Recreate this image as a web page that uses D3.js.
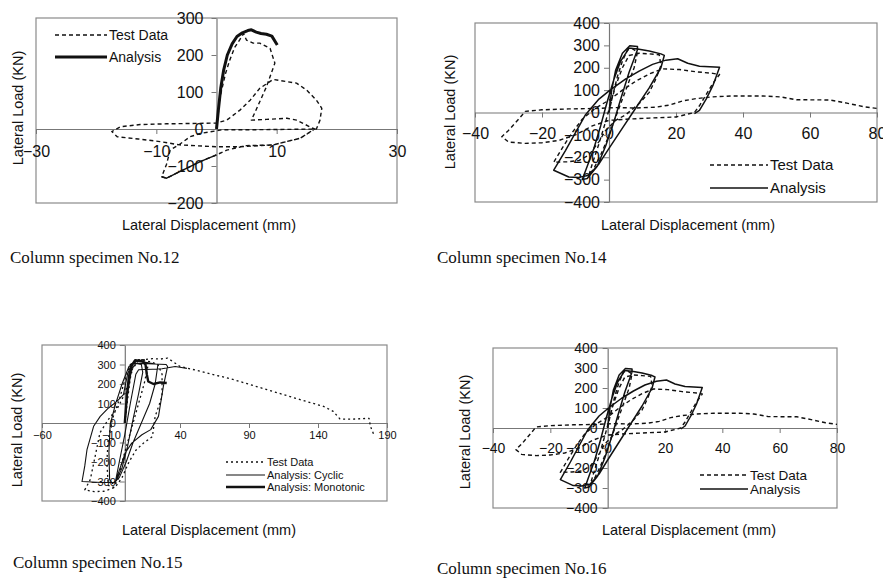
<!DOCTYPE html>
<html>
<head>
<meta charset="utf-8">
<script src="https://cdn.jsdelivr.net/npm/d3@7"></script>
<style>
  body { margin: 0; background: #fff; }
  text { font-family: "Liberation Sans", Arial, sans-serif; fill: #111; }
  .caption { font-family: "Liberation Serif", "Times New Roman", serif; }
</style>
</head>
<body>
<script>
// Lateral load (KN) vs lateral displacement (mm)

// Column specimen No.12
var test12 = [[0,0],[0.6,87],[1.5,150],[2.2,186],[3,220],[3.9,242],[4.5,258],[5,240],[6.1,232],[7.2,232],
  [8.9,218],[9.7,178],[8.3,114],[6.7,56],[5.8,24],[8.3,26],[11.7,29],[13.3,24],[15.5,6],[16.3,0],
  [13.9,-25],[9.4,-43],[3.9,-48],[0,-48],[-6.1,-43],[-9.4,-34],[-13,-27],[-16.5,-21],[-17.4,-7],[-16,6],
  [-12.7,12],[-8.3,14],[-4,15],[0,16],[1.7,24],[3.9,51],[5.6,78],[7.2,110],[9.4,134],[11.7,128],
  [13.3,124],[15,105],[16.6,78],[17.5,56],[17.2,24],[16.6,0],[12,-1],[6,-2],[1,-2],[-2.7,-12],
  [-4.4,-21],[-6,-40],[-7.7,-57],[-8.3,-95],[-9.1,-129],[-8.3,-133],[-6.1,-115],[-2.7,-88],[0,-70],
  [1.7,-57],[5,-45],[9.4,-43],[13.9,-25],[16.1,-3]];
var analysis12 = [[0,0],[0.3,50],[0.7,110],[1.2,160],[1.8,200],[2.6,230],[3.4,250],[4.3,260],[5.2,266],
  [5.8,268],[6.6,262],[7.4,258],[8.3,256],[9.2,251],[10.1,227]];
var analysis12Neg = [[0,-70],[-2.7,-88],[-6.1,-115],[-8.3,-133],[-9.1,-129]];

// Column specimen No.14 (No.16 is drawn with the same curves in the figure)
var test14 = [[0,0],[1,70],[2.5,160],[4,230],[5.5,280],[7,285],[8.5,270],[7.5,200],[5.5,120],[3.5,40],
  [1.5,-40],[-0.5,-120],[-2.5,-190],[-4.5,-250],[-6,-280],[-5,-230],[-3,-140],[-1,-40],[0.5,40],[2,120],
  [4,200],[6,255],[9,265],[12,262],[15,258],[15.5,210],[14,150],[12,90],[9,40],[5,-10],[2,-35],[-1,-80],
  [-3,-130],[-6,-190],[-9,-215],[-12.5,-220],[-16.5,-222],[-14,-160],[-11,-90],[-8,-30],[-4,20],[0,55],
  [4,100],[8,140],[12,172],[16,195],[21,192],[26,182],[31,175],[33,170],[31,130],[29,80],[27,30],
  [25.5,0],[20,-20],[12,-25],[5,-30],[0,-35],[-5,-60],[-10,-100],[-15,-125],[-20,-135],[-25,-138],
  [-30,-132],[-32,-108],[-30,-80],[-27,-30],[-25,5],[-20,12],[-12,16],[-4,18],[2,22],[8,20],[14,24],
  [18,33],[22,52],[26,62],[31,70],[37,74],[46,74],[51,70],[56,57],[66,56],[71,42],[76,26],[80,18]];
var analysis14 = [[0,0],[0.8,100],[2,190],[4,265],[6.2,298],[8.5,295],[8.5,280],[6,180],[3.5,60],
  [1.5,-40],[-1,-150],[-3.5,-240],[-6.5,-295],[-8,-300],[-7,-260],[-4.5,-160],[-2.5,-60],[-0.5,50],
  [1.5,150],[3.5,230],[6,288],[9,283],[12,275],[15.5,262],[16.5,255],[15.5,200],[12,110],[8,20],
  [4,-70],[0,-160],[-3,-230],[-6,-280],[-9,-290],[-12,-288],[-16.5,-258],[-13,-170],[-10,-90],[-7,-10],
  [-3,60],[0.3,100],[5,150],[9,185],[13,215],[17,234],[20.5,240],[23.5,220],[27,207],[30,205],
  [33,202],[31,120],[29,60],[27,10],[25.5,-5]];
var test16 = test14;
var analysis16 = analysis14;

// Column specimen No.15
var test15 = [[0,0],[2,120],[4,230],[6,290],[9,320],[14,325],[17,300],[14,200],[10,100],[6,0],[2,-100],
  [-2,-200],[-5,-290],[-8,-330],[-12,-320],[-13,-200],[-12,-80],[-9,20],[-4,120],[0,220],[4,300],
  [10,325],[18,315],[24,300],[27,250],[27,136],[22,34],[20,-70],[14,-100],[8,-140],[3,-200],[-2,-280],
  [-7,-330],[-15,-350],[-22,-352],[-29,-343],[-25,-290],[-21,-154],[-18,-50],[-12,17],[-5,80],[0,150],
  [5,270],[10,322],[20,330],[26,328],[31,333],[40,290],[55,265],[79,222],[103,171],[127,120],[144,85],
  [151,60],[156,20],[165,20],[177,24],[178,-17],[181,-69]];
var cyclic15 = [[0,0],[2,150],[5,280],[8,305],[12,300],[13,260],[10,150],[6,20],[2,-120],[-2,-230],
  [-6,-295],[-9,-310],[-11,-290],[-11.5,-150],[-10.6,-9],[-7,90],[-2,200],[3,290],[8,315],[14,312],
  [20,305],[24,300],[22,200],[18,100],[12,0],[6,-100],[1,-200],[-4,-280],[-8,-305],[-16.6,-305],
  [-31,-300],[-29,-220],[-27.4,-137],[-22.6,-17],[-17.8,34],[-11.8,77],[-5.7,111],[-1,145],[2,250],
  [5,305],[12,305],[30,300],[31,290],[28,190],[24.4,34],[18.8,-34],[12.4,-60],[5,-103],[0.3,-154],
  [-4.6,-256],[-7,-308],[-4,-200],[0,-60],[4,100],[8,250],[10,273],[20,276],[27,278],[36.5,290],
  [41,285],[45,280]];
var mono15 = [[0,0],[1.5,140],[3,240],[5,295],[7.5,322],[10,320],[13,316],[15,300],[16,248],[17,213],
  [20.8,200],[25.6,208],[30.4,205]];

// tick values
var xTicks12 = [-30, -10, 10, 30];
var yTicks12 = [-200, -100, 0, 100, 200, 300];
var xTicks14 = [-40, -20, 0, 20, 40, 60, 80];
var yTicks14 = [-400, -300, -200, -100, 0, 100, 200, 300, 400];
var xTicks15 = [-60, -10, 40, 90, 140, 190];

// labels
var legend2 = ["Test Data", "Analysis"];
var legend3 = ["Test Data", "Analysis: Cyclic", "Analysis: Monotonic"];
var xTitle = "Lateral Displacement (mm)";
var yTitle = "Lateral Load (KN)";

var svg = d3.select("body").append("svg")
  .attr("width", 883)
  .attr("height", 579);

var panels = [
  { id: 1, left: 36, right: 397, top: 18, bottom: 203, xDomain: [-30, 30], yDomain: [-200, 300],
    xTicks: xTicks12, yTicks: yTicks12, tickFont: 16, xPad: 12, yPad: 8,
    xTitle: [209, 230], yTitle: [23, 108], caption: "Column specimen No.12", capPos: [10, 263],
    series: [
      { data: test12, width: 1.4, dash: "4,3" },
      { data: analysis12Neg, width: 1.4, dash: null },
      { data: analysis12, width: 3, dash: null }
    ],
    legend: { x1: 55, x2: 107, ys: [35, 57], labels: legend2, font: 14, widths: [1.4, 3], dashes: ["4,3", null] } },
  { id: 2, left: 475, right: 877, top: 23, bottom: 202, xDomain: [-40, 80], yDomain: [-400, 400],
    xTicks: xTicks14, yTicks: yTicks14, tickFont: 16, xPad: 10, yPad: 4,
    xTitle: [688, 230], yTitle: [455, 112], caption: "Column specimen No.14", capPos: [437, 263],
    series: [
      { data: test14, width: 1.4, dash: "4,3" },
      { data: analysis14, width: 1.5, dash: null }
    ],
    legend: { x1: 710, x2: 768, ys: [165, 188], labels: legend2, font: 15, widths: [1.4, 1.5], dashes: ["4,3", null] } },
  { id: 3, left: 42, right: 387, top: 345, bottom: 501, xDomain: [-60, 190], yDomain: [-400, 400],
    xTicks: xTicks15, yTicks: yTicks14, tickFont: 11, xPad: 3, yPad: 4,
    xTitle: [209, 535], yTitle: [22, 430], caption: "Column specimen No.15", capPos: [13, 568],
    series: [
      { data: test15, width: 1.3, dash: "2,3" },
      { data: cyclic15, width: 1.1, dash: null },
      { data: mono15, width: 2.4, dash: null }
    ],
    legend: { x1: 226, x2: 265, ys: [462, 475, 487], labels: legend3, font: 11, widths: [1.3, 1.1, 2.4], dashes: ["2,3", null, null] } },
  { id: 4, left: 493, right: 837, top: 348, bottom: 508, xDomain: [-40, 80], yDomain: [-400, 400],
    xTicks: xTicks14, yTicks: yTicks14, tickFont: 14, xPad: 10, yPad: 5,
    xTitle: [689, 535], yTitle: [470, 432], caption: "Column specimen No.16", capPos: [437, 574],
    series: [
      { data: test16, width: 1.4, dash: "4,3" },
      { data: analysis16, width: 1.5, dash: null }
    ],
    legend: { x1: 700, x2: 748, ys: [475, 489], labels: legend2, font: 13.5, widths: [1.4, 1.5], dashes: ["4,3", null] } }
];

panels.forEach(function(p) {
  var x = d3.scaleLinear().domain(p.xDomain).range([p.left, p.right]);
  var y = d3.scaleLinear().domain(p.yDomain).range([p.bottom, p.top]);
  var g = svg.append("g");

  g.append("clipPath").attr("id", "clip" + p.id)
    .append("rect")
    .attr("x", p.left).attr("y", p.top)
    .attr("width", p.right - p.left).attr("height", p.bottom - p.top);

  // plot area border
  g.append("rect")
    .attr("x", p.left).attr("y", p.top)
    .attr("width", p.right - p.left).attr("height", p.bottom - p.top)
    .attr("fill", "none")
    .attr("stroke", "#8a8a8a")
    .attr("stroke-width", 1.2);

  // axes cross at the origin
  var xAxis = g.append("g")
    .attr("transform", "translate(0," + y(0) + ")")
    .call(d3.axisBottom(x).tickValues(p.xTicks).tickSize(5).tickSizeOuter(0).tickPadding(p.xPad));
  var yAxis = g.append("g")
    .attr("transform", "translate(" + x(0) + ",0)")
    .call(d3.axisLeft(y).tickValues(p.yTicks).tickSize(5).tickSizeOuter(0).tickPadding(p.yPad));

  [xAxis, yAxis].forEach(function(a) {
    a.attr("font-family", null).attr("font-size", null);
    a.select(".domain").attr("stroke", "#777").attr("stroke-width", 1.2);
    a.selectAll(".tick line").attr("stroke", "#777");
    a.selectAll("text").style("font-size", p.tickFont + "px").attr("fill", "#111");
  });

  // curves
  var drawLine = d3.line()
    .x(function(d) { return x(d[0]); })
    .y(function(d) { return y(d[1]); });

  p.series.forEach(function(s) {
    g.append("path")
      .attr("d", drawLine(s.data))
      .attr("fill", "none")
      .attr("stroke", "#111")
      .attr("stroke-width", s.width)
      .attr("stroke-linejoin", "round")
      .attr("stroke-dasharray", s.dash)
      .attr("clip-path", "url(#clip" + p.id + ")");
  });

  // legend
  var lg = p.legend;
  lg.labels.forEach(function(label, i) {
    g.append("line")
      .attr("x1", lg.x1).attr("x2", lg.x2)
      .attr("y1", lg.ys[i]).attr("y2", lg.ys[i])
      .attr("stroke", "#111")
      .attr("stroke-width", lg.widths[i])
      .attr("stroke-dasharray", lg.dashes[i]);
    g.append("text")
      .attr("x", lg.x2 + 2).attr("y", lg.ys[i])
      .attr("dy", "0.36em")
      .style("font-size", lg.font + "px")
      .text(label);
  });

  // axis titles
  g.append("text")
    .attr("x", p.xTitle[0]).attr("y", p.xTitle[1])
    .attr("text-anchor", "middle")
    .style("font-size", "14.5px")
    .text(xTitle);
  g.append("text")
    .attr("transform", "translate(" + p.yTitle[0] + "," + p.yTitle[1] + ") rotate(-90)")
    .attr("text-anchor", "middle")
    .style("font-size", "14.5px")
    .text(yTitle);

  // caption under each chart
  g.append("text")
    .attr("class", "caption")
    .attr("x", p.capPos[0]).attr("y", p.capPos[1])
    .style("font-size", "17px")
    .text(p.caption);
});
</script>
</body>
</html>
